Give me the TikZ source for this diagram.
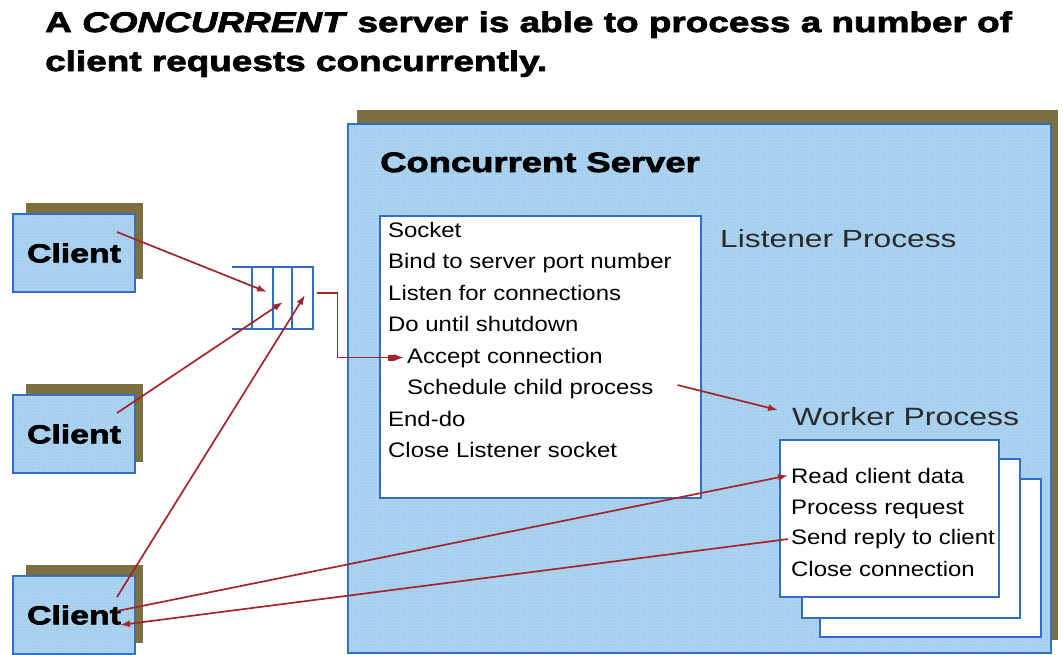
\documentclass[tikz,border=0pt]{standalone}
\usepackage{fontspec}
\setmainfont{Liberation Sans}
\newfontfamily\heavyfont[FakeStretch=1.3,FakeBold=2.6]{Liberation Sans}
\newfontfamily\plainfont[FakeStretch=1.14]{Liberation Sans}
\newfontfamily\labelfont[FakeStretch=1.28]{Liberation Sans}
\usetikzlibrary{arrows.meta,calc,patterns}
\definecolor{boxblue}{HTML}{AAD4F0}
\definecolor{edgeblue}{HTML}{2F6EC4}
\definecolor{shadowol}{HTML}{7D6F3F}
\definecolor{arrowred}{HTML}{A3252B}
\definecolor{dotcol}{HTML}{8E9FD8}
\definecolor{labelgray}{HTML}{2A2A2A}
\begin{document}
\begin{tikzpicture}[x=1pt,y=-1pt,
  shadowfill/.style={fill=shadowol,draw=none},
  bluebox/.style={draw=edgeblue,line width=2pt,fill=boxblue,
     postaction={pattern=dots,pattern color=dotcol}},
  whitebox/.style={draw=edgeblue,line width=1.6pt,fill=white,inner sep=0pt,anchor=north west},
  clientbox/.style={bluebox,minimum width=122pt,minimum height=78pt,inner sep=0pt,
     font=\heavyfont\bfseries\fontsize{26}{30}\selectfont},
  queueline/.style={draw=edgeblue,line width=2pt},
  flow/.style={draw=arrowred,line width=1.7pt,-{Latex[length=10pt,width=7pt]}},
  listtext/.style={anchor=base west,inner sep=0pt,font=\plainfont\fontsize{21}{24}\selectfont},
  titletext/.style={anchor=base west,inner sep=0pt,font=\heavyfont\bfseries\fontsize{28.4}{34}\selectfont},
  proclabel/.style={anchor=base west,inner sep=0pt,text=labelgray}
]
\useasboundingbox (0,0) rectangle (1063,654);

% title
\node[titletext] (t1) at (45,32) {A \textit{CONCURRENT} server is able to process a number of};
\node[titletext] (t2) at (45,71) {client requests concurrently.};

% server
\fill[shadowfill] (357,110) rectangle (1058,640);
\node[bluebox,anchor=north west,minimum width=703pt,minimum height=529pt,inner sep=0pt] (server) at (347,123) {};
\node[anchor=base west,inner sep=0pt,font=\heavyfont\bfseries\fontsize{28}{32}\selectfont] (stitle) at (380,172) {Concurrent Server};
\node[proclabel,font=\labelfont\fontsize{24.8}{28}\selectfont] (lp) at (720,247) {Listener Process};
\node[proclabel,font=\labelfont\fontsize{25}{30}\selectfont] (wp) at (792,425) {Worker Process};

% listener box
\node[whitebox,minimum width=321pt,minimum height=282pt] (lbox) at (379,215) {};
\node[listtext] (l1) at (388,237) {Socket};
\node[listtext] (l2) at (388,268.5) {Bind to server port number};
\node[listtext] (l3) at (388,300) {Listen for connections};
\node[listtext] (l4) at (388,331.5) {Do until shutdown};
\node[listtext] (l5) at (407,363) {Accept connection};
\node[listtext] (l6) at (407,394.5) {Schedule child process};
\node[listtext] (l7) at (388,426) {End-do};
\node[listtext] (l8) at (388,457.5) {Close Listener socket};

% worker boxes
\node[whitebox,minimum width=221pt,minimum height=158pt] (w3) at (819,478) {};
\node[whitebox,minimum width=218pt,minimum height=159pt] (w2) at (801,458) {};
\node[whitebox,minimum width=219pt,minimum height=157pt] (w1) at (779,439) {};
\node[listtext] (r1) at (791,483) {Read client data};
\node[listtext] (r2) at (791,514) {Process request};
\node[listtext] (r3) at (791,544.5) {Send reply to client};
\node[listtext] (r4) at (791,576) {Close connection};

% clients
\fill[shadowfill] (26,203) rectangle (143,279);
\node[clientbox] (c1) at (74,253) {Client};
\fill[shadowfill] (26,384) rectangle (143,462);
\node[clientbox] (c2) at (74,434) {Client};
\fill[shadowfill] (26,565) rectangle (143,643);
\node[clientbox] (c3) at (74,615) {Client};

% queue
\node[minimum width=61pt,minimum height=62pt,inner sep=0pt,anchor=north west] (queue) at (252,267) {};
\draw[queueline] ($(queue.north west)+(-20,0)$) -- (queue.north east) -- (queue.south east) -- ($(queue.south west)+(-20,0)$);
\draw[queueline] (queue.north west) -- (queue.south west);
\draw[queueline] ($(queue.north west)+(21,0)$) -- ($(queue.south west)+(21,0)$);
\draw[queueline] ($(queue.north west)+(40,0)$) -- ($(queue.south west)+(40,0)$);

% connectors
\draw[flow] ($(c1.center)+(43,-21)$) -- ($(queue.north west)+(15,25)$);
\draw[flow] ($(c2.center)+(43,-21)$) -- ($(queue.north west)+(31,35)$);
\draw[flow] ($(c3.center)+(43,-18)$) -- ($(queue.north west)+(53,28)$);

\coordinate (qout) at ($(queue.east)+(4,-5)$);
\draw[flow,shorten >=3pt] (qout) -- ++(20,0) |- (l5.west);
\node[fill=arrowred,minimum size=6pt,inner sep=0pt] (mk) at ($(l5.west)+(-16,0)$) {};

\draw[flow] ($(l6.east)+(24,-4)$) -- ($(wp.west)+(-14,-6)$);
\draw[flow] ($(c3.center)+(43,-4)$) -- ($(r1.west)+(-3,0)$);
\draw[flow] ($(r3.west)+(-3,0)$) -- ($(c3.center)+(46,10)$);
\end{tikzpicture}
\end{document}
